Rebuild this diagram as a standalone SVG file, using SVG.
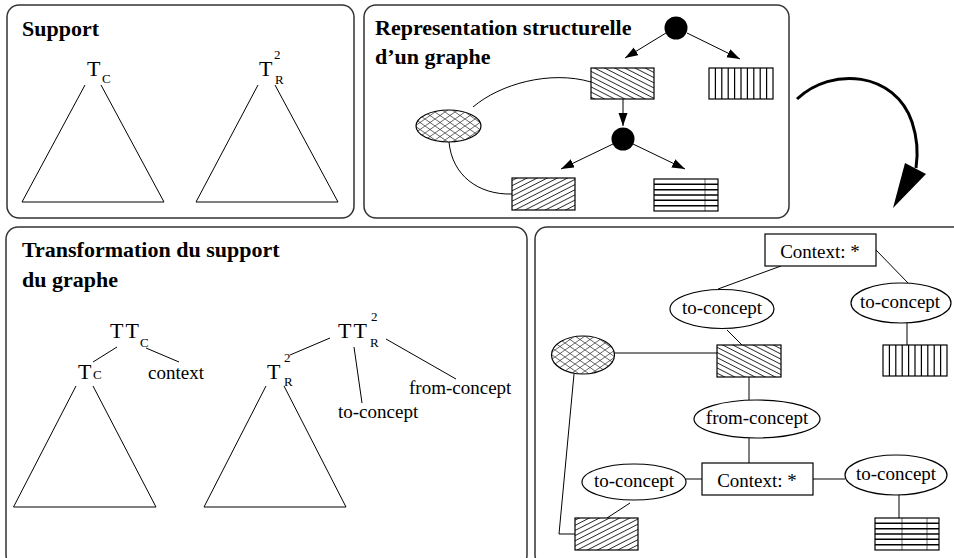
<svg xmlns="http://www.w3.org/2000/svg" width="954" height="558" viewBox="0 0 954 558">
  <style>
    .panel{fill:none;stroke:#333;stroke-width:1.5}
    .ln{fill:none;stroke:#000;stroke-width:1}
    .title{font-family:"Liberation Serif",serif;font-weight:bold;font-size:22px}
    .lbl{font-family:"Liberation Serif",serif;font-size:19px}
    .big{font-family:"Liberation Serif",serif;font-size:22px}
    .sub{font-family:"Liberation Serif",serif;font-size:13px}
    .box{fill:#fff;stroke:#000;stroke-width:1.2}
    .shape{stroke:#000;stroke-width:1.2}
    .stripe{stroke:#000;stroke-width:1.2}
    .hstripe{stroke:#000;stroke-width:1.6}
    .mid{text-anchor:middle}
  </style>
  <defs>
    <marker id="arrow" markerUnits="userSpaceOnUse" markerWidth="14" markerHeight="10" refX="13" refY="4.5" orient="auto">
      <path d="M0,0 L13,4.5 L0,9 z" fill="#000"/>
    </marker>
    <pattern id="hatchBack" patternUnits="userSpaceOnUse" width="20" height="4.6" patternTransform="rotate(27)">
      <rect width="20" height="4.6" fill="#fff"/>
      <line x1="0" y1="2.3" x2="20" y2="2.3" stroke="#000" stroke-width="0.8"/>
    </pattern>
    <pattern id="hatchFwd" patternUnits="userSpaceOnUse" width="20" height="4.6" patternTransform="rotate(-27)">
      <rect width="20" height="4.6" fill="#fff"/>
      <line x1="0" y1="2.3" x2="20" y2="2.3" stroke="#000" stroke-width="0.8"/>
    </pattern>
    <pattern id="cross" patternUnits="userSpaceOnUse" width="10" height="7">
      <rect width="10" height="7" fill="#fff"/>
      <path d="M0,3.5 L5,0 L10,3.5 L5,7 Z" fill="none" stroke="#000" stroke-width="0.6"/>
    </pattern>
  </defs>

  <!-- Panel 1: the support trees -->
  <g id="panel-support">
    <rect class="panel" x="7" y="5" width="347" height="213" rx="12"/>
    <text class="title" x="22" y="36">Support</text>
    <g id="tree-tc">
      <text class="big" x="87" y="76">T</text>
      <text class="sub" x="102" y="83">C</text>
      <path class="ln" d="M85,85 L22,202 L164,202 L101,85"/>
    </g>
    <g id="tree-tr">
      <text class="big" x="259" y="76">T</text>
      <text class="sub" x="274" y="59">2</text>
      <text class="sub" x="275" y="84">R</text>
      <path class="ln" d="M258,85 L196,202 L338,202 L275,85"/>
    </g>
  </g>

  <!-- Panel 2: structural representation -->
  <g id="panel-structure">
    <rect class="panel" x="364" y="5" width="425" height="213" rx="12"/>
    <text class="title" x="375" y="35">Representation structurelle</text>
    <text class="title" x="375" y="64">d’un graphe</text>
    <g id="s-root"><circle cx="676" cy="28" r="11.5" fill="#000"/></g>
    <g id="s-rect-a"><rect class="shape" x="591" y="68" width="63" height="31" fill="url(#hatchBack)"/></g>
    <g id="s-rect-b">
      <rect x="709" y="68" width="64" height="31" fill="#fff"/>
      <path class="stripe" d="M715.4,68V99M721.8,68V99M728.2,68V99M734.6,68V99M741,68V99M747.4,68V99M753.8,68V99M760.2,68V99M766.6,68V99"/>
      <rect class="shape" x="709" y="68" width="64" height="31" fill="none"/>
    </g>
    <g id="s-node"><circle cx="623" cy="139" r="11.5" fill="#000"/></g>
    <g id="s-ellipse"><ellipse class="shape" cx="448.5" cy="126" rx="32.5" ry="16" fill="url(#cross)"/></g>
    <g id="s-rect-c"><rect class="shape" x="512" y="178" width="63" height="32" fill="url(#hatchFwd)"/></g>
    <g id="s-rect-d">
      <rect x="654" y="179" width="64" height="32" fill="#fff"/>
      <path class="hstripe" d="M654,184.3H718M654,189.7H718M654,195H718M654,200.3H718M654,205.7H718"/>
      <line x1="705" y1="179" x2="705" y2="211" stroke="#000" stroke-width="0.6"/>
      <rect class="shape" x="654" y="179" width="64" height="32" fill="none"/>
    </g>
    <g id="s-connectors">
      <line class="ln" x1="666" y1="33" x2="625" y2="58" marker-end="url(#arrow)"/>
      <line class="ln" x1="687" y1="33" x2="740" y2="59" marker-end="url(#arrow)"/>
      <line class="ln" x1="623" y1="99" x2="623" y2="126" marker-end="url(#arrow)"/>
      <line class="ln" x1="613" y1="144" x2="561" y2="169" marker-end="url(#arrow)"/>
      <line class="ln" x1="633" y1="144" x2="685" y2="169" marker-end="url(#arrow)"/>
      <path class="ln" d="M473,107 C500,84 550,70 591,82"/>
      <path class="ln" d="M449,142 C452,175 478,195 512,194"/>
    </g>
  </g>

  <!-- Transition arrow between panels -->
  <g id="transition">
    <path d="M797,99 C832,66 895,72 912,122 C918,140 918,155 916,168" fill="none" stroke="#000" stroke-width="3"/>
    <polygon points="905,163 926,174 893,208" fill="#000"/>
  </g>

  <!-- Panel 3: transformed support -->
  <g id="panel-transform">
    <rect class="panel" x="6" y="227" width="521" height="340" rx="12"/>
    <text class="title" x="22" y="257">Transformation du support</text>
    <text class="title" x="22" y="287">du graphe</text>
    <g id="tree-ttc">
      <text class="big" x="110" y="338" letter-spacing="2">TT</text>
      <text class="sub" x="140" y="347">C</text>
      <text class="big" x="78" y="379">T</text>
      <text class="sub" x="93" y="379">C</text>
      <text class="lbl" x="148" y="379">context</text>
      <path class="ln" d="M117,347 L93,362 M146,348 L179,362"/>
      <path class="ln" d="M76,386 L13.5,507 L156,507 L93,386"/>
    </g>
    <g id="tree-ttr">
      <text class="big" x="338" y="338" letter-spacing="2">TT</text>
      <text class="sub" x="371" y="321">2</text>
      <text class="sub" x="370" y="347">R</text>
      <text class="big" x="267" y="379">T</text>
      <text class="sub" x="284" y="362">2</text>
      <text class="sub" x="284" y="386">R</text>
      <text class="lbl" x="338" y="418">to-concept</text>
      <text class="lbl" x="409" y="394">from-concept</text>
      <path class="ln" d="M330,338 L290,355 M354,347 L362,403 M386,339 L456,379"/>
      <path class="ln" d="M266,386 L204,507 L346,507 L284,386"/>
    </g>
  </g>

  <!-- Panel 4: resulting graph -->
  <g id="panel-graph">
    <rect class="panel" x="535" y="227" width="430" height="340" rx="12"/>
    <g id="g-connectors">
      <path class="ln" d="M781,266 L718,289"/>
      <path class="ln" d="M876,250 L908,283"/>
      <path class="ln" d="M907,323 L907,345"/>
      <path class="ln" d="M614,353 L717,353"/>
      <path class="ln" d="M727,330 L742,345"/>
      <path class="ln" d="M749,377 L749,400"/>
      <path class="ln" d="M749,438 L749,463"/>
      <path class="ln" d="M686,479 L702,479"/>
      <path class="ln" d="M813,479 L845,479"/>
      <path class="ln" d="M899,495 L899,518"/>
      <path class="ln" d="M630,503 L607,518"/>
      <path class="ln" d="M574,374 L559,534 L575,534"/>
    </g>
    <g id="g-context-top">
      <rect class="box" x="765" y="234" width="111" height="32"/>
      <text class="lbl mid" x="820" y="258">Context: *</text>
    </g>
    <g id="g-to-concept-1">
      <ellipse class="box" cx="722" cy="309" rx="52" ry="19.5"/>
      <text class="lbl mid" x="722" y="314">to-concept</text>
    </g>
    <g id="g-to-concept-2">
      <ellipse class="box" cx="901" cy="303" rx="50" ry="20"/>
      <text class="lbl mid" x="900" y="308">to-concept</text>
    </g>
    <g id="g-rect-b">
      <rect x="883" y="345" width="64" height="31" fill="#fff"/>
      <path class="stripe" d="M889.4,345V376M895.8,345V376M902.2,345V376M908.6,345V376M915,345V376M921.4,345V376M927.8,345V376M934.2,345V376M940.6,345V376"/>
      <rect class="shape" x="883" y="345" width="64" height="31" fill="none"/>
    </g>
    <g id="g-ellipse"><ellipse class="shape" cx="583" cy="355" rx="31.5" ry="19" fill="url(#cross)"/></g>
    <g id="g-rect-a"><rect class="shape" x="717" y="345" width="64" height="32" fill="url(#hatchBack)"/></g>
    <g id="g-from-concept">
      <ellipse class="box" cx="757" cy="419" rx="63" ry="19"/>
      <text class="lbl mid" x="757" y="424">from-concept</text>
    </g>
    <g id="g-context-bottom">
      <rect class="box" x="702" y="463" width="111" height="32"/>
      <text class="lbl mid" x="757" y="487">Context: *</text>
    </g>
    <g id="g-to-concept-3">
      <ellipse class="box" cx="634" cy="482" rx="52" ry="18"/>
      <text class="lbl mid" x="634" y="487">to-concept</text>
    </g>
    <g id="g-to-concept-4">
      <ellipse class="box" cx="896" cy="475" rx="51" ry="20"/>
      <text class="lbl mid" x="896" y="480">to-concept</text>
    </g>
    <g id="g-rect-d">
      <rect x="875" y="518" width="64" height="32" fill="#fff"/>
      <path class="hstripe" d="M875,523.3H939M875,528.7H939M875,534H939M875,539.3H939M875,544.7H939"/>
      <line x1="902" y1="518" x2="902" y2="550" stroke="#000" stroke-width="0.6"/>
      <line x1="927" y1="518" x2="927" y2="550" stroke="#000" stroke-width="0.6"/>
      <rect class="shape" x="875" y="518" width="64" height="32" fill="none"/>
    </g>
    <g id="g-rect-c"><rect class="shape" x="575" y="518" width="63" height="32" fill="url(#hatchFwd)"/></g>
  </g>
</svg>
